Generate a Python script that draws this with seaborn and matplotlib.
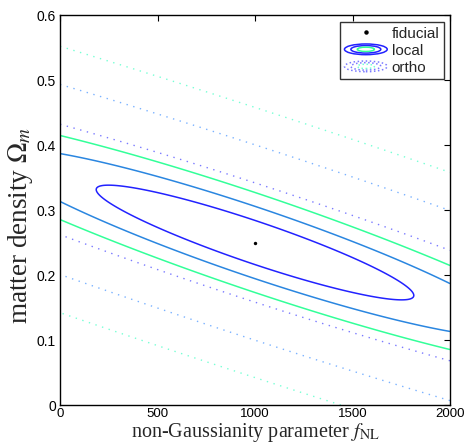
import numpy as np
import matplotlib
matplotlib.use('Agg')
import matplotlib.pyplot as plt
import seaborn as sns
from matplotlib.legend_handler import HandlerBase
from matplotlib.patches import Ellipse, Patch
from matplotlib.lines import Line2D

# fiducial model
fid_fnl = [1000]
fid_om = [0.25]

# forecast ellipses (vertical sigma, sigma along f_NL, degeneracy slope)
models = ['local', 'ortho']
sigma_om = [0.0224, 0.0605]
sigma_fnl = [537, 1745]
slope = [-1.0e-4, -0.97e-4]
chi2_levels = [2.30, 6.17, 11.8]
level_colors = ['#2222ff', '#2a86e0', '#33ff99']
ortho_colors = ['#7a7aff', '#7ab2ff', '#77ffd5']

sns.set_style('white')
plt.rcParams['font.family'] = ['Liberation Sans', 'DejaVu Sans']
plt.rcParams['mathtext.fontset'] = 'stix'

fig = plt.figure(figsize=(4.67, 4.44), dpi=100)
ax = fig.add_axes([0.1285, 0.0878, 0.8351, 0.8784])

fnl = np.linspace(0, 2000, 500)
om = np.linspace(0, 0.6, 500)
X, Y = np.meshgrid(fnl, om)

for i, name in enumerate(models):
    u = Y - fid_om[0] - slope[i] * (X - fid_fnl[0])
    v = X - fid_fnl[0]
    chi2 = (u / sigma_om[i]) ** 2 + (v / sigma_fnl[i]) ** 2
    if name == 'local':
        ax.contour(X, Y, chi2, levels=chi2_levels, colors=level_colors,
                   linewidths=1.1, linestyles='-')
    else:
        ax.contour(X, Y, chi2, levels=chi2_levels, colors=ortho_colors,
                   linewidths=1.0, linestyles=[(0, (1, 4))])

sns.scatterplot(x=fid_fnl, y=fid_om, color='black', s=6, marker='o',
                edgecolor='black', linewidth=0, ax=ax, zorder=5)

ax.set_xlim(0, 2000)
ax.set_ylim(0, 0.6)
ax.set_xticks([0, 500, 1000, 1500, 2000])
ax.set_yticks([0, 0.1, 0.2, 0.3, 0.4, 0.5, 0.6])
ax.set_yticklabels(['0', '0.1', '0.2', '0.3', '0.4', '0.5', '0.6'])
ax.tick_params(direction='in', length=4, width=0.8, top=True, right=True,
               labelsize=10, pad=3, colors='black')
ax.tick_params(axis='x', labelsize=9.5, pad=2)
for s in ax.spines.values():
    s.set_color('black')
    s.set_linewidth(1.0)

ax.set_xlabel(r'non-Gaussianity parameter $f_{\rm NL}$', fontsize=14.5,
              family='Liberation Serif')
ax.set_ylabel(r'matter density $\Omega_m$', fontsize=19.5,
              family='Liberation Serif')
ax.xaxis.set_label_coords(0.5, -0.042)
ax.yaxis.set_label_coords(-0.063, 0.46)


class EllipseHandler(HandlerBase):
    def __init__(self, colors, ls):
        super().__init__()
        self.colors = colors
        self.ls = ls

    def create_artists(self, legend, orig_handle, xdescent, ydescent, width,
                       height, fontsize, trans):
        cx = 0.5 * width - xdescent
        cy = 0.5 * height - ydescent
        arts = []
        for k, c in zip([1.0, 0.7, 0.4], self.colors):
            e = Ellipse((cx, cy), width * k, height * 1.0 * k, fill=False,
                        edgecolor=c, linestyle=self.ls, linewidth=1.1,
                        transform=trans)
            arts.append(e)
        return arts


h_fid = Line2D([], [], ls='none', marker='o', markersize=2.2, color='black')
h_loc = Patch()
h_ort = Patch()
leg = ax.legend([h_fid, h_loc, h_ort], ['fiducial', 'local', 'ortho'],
                handler_map={h_loc: EllipseHandler(['#2222ff', '#2222ff', '#33ff99'], '-'),
                             h_ort: EllipseHandler(['#7a7aff', '#7a7aff', '#77ffd5'], ':')},
                loc='upper right', bbox_to_anchor=(0.985, 0.982), fontsize=11,
                frameon=True, fancybox=False, handlelength=2.8,
                handletextpad=0.3, borderpad=0.3, labelspacing=0.2,
                borderaxespad=0)
leg.get_frame().set_edgecolor('black')
leg.get_frame().set_linewidth(1.0)

plt.savefig('out.png', dpi=100)
